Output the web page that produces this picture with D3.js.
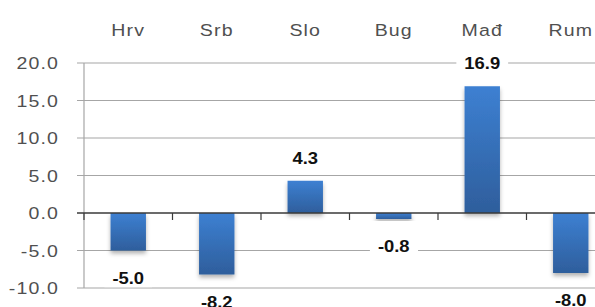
<!DOCTYPE html>
<html lang="en">
  <head>
    <meta charset="UTF-8">
    <script type="text/javascript" src="https://cdn.jsdelivr.net/npm/d3@7"></script>
    <style>
      body { margin: 0; background: #fff; }
      svg { display: block; overflow: hidden; }
    </style>
    <title>Bar chart</title>
  </head>
  <body>
    <script type="text/javascript">
      // Column chart with values above / below each bar

      let categories = ['Hrv', 'Srb', 'Slo', 'Bug', 'Mađ', 'Rum'];
      let values = [-5.0, -8.2, 4.3, -0.8, 16.9, -8.0];
      let yTicks = [-10, -5, 0, 5, 10, 15, 20];

      let w = 595;
      let h = 307;
      let plotLeft = 84;
      let plotRight = 615;   // plot runs past the window edge
      let plotTop = 63;
      let plotBottom = 288;

      let font = "'Liberation Sans', Arial, sans-serif";
      let stretch = 1.15;    // the original text is drawn wide

      let xGroup = d3.scaleBand()
                     .domain(categories)
                     .range([plotLeft, plotRight])
                     .padding(0);

      let xScale = d3.scaleBand()
                     .domain(categories)
                     .range([plotLeft, plotRight])
                     .paddingInner(0.6)
                     .paddingOuter(0.3);

      let yScale = d3.scaleLinear()
                     .domain([-10, 20])
                     .range([plotBottom, plotTop]);

      let svg = d3.select('body')
                  .append('svg')
                  .attr('width', w)
                  .attr('height', h);

      let defs = svg.append('defs');
      let grad = defs.append('linearGradient')
                     .attr('id', 'barGrad')
                     .attr('x1', 0).attr('y1', 0)
                     .attr('x2', 0).attr('y2', 1);
      grad.append('stop').attr('offset', '0%').attr('stop-color', '#3d80d2');
      grad.append('stop').attr('offset', '100%').attr('stop-color', '#2e5e9c');

      let shadow = defs.append('filter')
                       .attr('id', 'shadow')
                       .attr('x', '-30%').attr('y', '-30%')
                       .attr('width', '160%').attr('height', '160%');
      shadow.append('feDropShadow')
            .attr('dx', 0).attr('dy', 3)
            .attr('stdDeviation', 2)
            .attr('flood-color', '#000')
            .attr('flood-opacity', 0.3);

      // Gridlines
      svg.selectAll('line.grid')
         .data(yTicks.filter(d => d !== 0))
         .enter()
         .append('line')
         .attr('class', 'grid')
         .attr('x1', plotLeft - 7)
         .attr('x2', w)
         .attr('y1', d => yScale(d))
         .attr('y2', d => yScale(d))
         .attr('stroke', '#a6a6a6')
         .attr('stroke-width', 1.2);

      // Vertical axis
      svg.append('line')
         .attr('x1', plotLeft).attr('x2', plotLeft)
         .attr('y1', yScale(20)).attr('y2', yScale(-10))
         .attr('stroke', '#a6a6a6')
         .attr('stroke-width', 1.2);

      // Tick labels
      svg.selectAll('text.ytick')
         .data(yTicks)
         .enter()
         .append('text')
         .attr('class', 'ytick')
         .text(d => d.toFixed(1))
         .attr('text-anchor', 'end')
         .attr('transform', d => `translate(59,${yScale(d) + 6}) scale(${stretch},1)`)
         .attr('font-family', font)
         .attr('font-size', 17)
         .attr('letter-spacing', 1)
         .attr('fill', '#505050');

      // Category labels on top
      svg.selectAll('text.cat')
         .data(categories)
         .enter()
         .append('text')
         .attr('class', 'cat')
         .text(d => d)
         .attr('text-anchor', 'middle')
         .attr('transform', d => `translate(${xGroup(d) + xGroup.bandwidth() / 2},36) scale(${stretch},1)`)
         .attr('font-family', font)
         .attr('font-size', 17)
         .attr('letter-spacing', 1)
         .attr('fill', '#505050');

      // Bars
      svg.selectAll('rect.bar')
         .data(values)
         .enter()
         .append('rect')
         .attr('class', 'bar')
         .attr('x', (d, i) => xScale(categories[i]))
         .attr('y', d => yScale(Math.max(d, 0)))
         .attr('width', xScale.bandwidth())
         .attr('height', d => Math.abs(yScale(d) - yScale(0)))
         .attr('fill', 'url(#barGrad)')
         .attr('filter', 'url(#shadow)');

      // Zero line and its ticks
      svg.append('line')
         .attr('x1', plotLeft - 7).attr('x2', w)
         .attr('y1', yScale(0)).attr('y2', yScale(0))
         .attr('stroke', '#3a3a3a')
         .attr('stroke-width', 1.3);

      svg.selectAll('line.xtick')
         .data(categories)
         .enter()
         .append('line')
         .attr('class', 'xtick')
         .attr('x1', d => xGroup(d))
         .attr('x2', d => xGroup(d))
         .attr('y1', yScale(0))
         .attr('y2', yScale(0) + 7)
         .attr('stroke', '#3a3a3a')
         .attr('stroke-width', 1.2);

      // Value labels with white backing
      let labelStretch = 1.15;
      let labels = svg.selectAll('g.vlabel')
                      .data(values)
                      .enter()
                      .append('g')
                      .attr('class', 'vlabel')
                      .attr('transform', (d, i) => {
                        let x = xGroup(categories[i]) + xGroup.bandwidth() / 2;
                        let y = d >= 0 ? yScale(d) - 23 + 6 : yScale(d) + 27 + 6;
                        return `translate(${x},${y}) scale(${labelStretch},1)`;
                      });

      labels.append('rect')
            .attr('fill', '#fff');

      labels.append('text')
            .text(d => d.toFixed(1))
            .attr('text-anchor', 'middle')
            .attr('font-family', font)
            .attr('font-size', 16)
            .attr('font-weight', 'bold')
            .attr('fill', '#111');

      labels.each(function() {
        let g = d3.select(this);
        let b = g.select('text').node().getBBox();
        let pad = 8 / labelStretch;
        g.select('rect')
         .attr('x', b.x - pad)
         .attr('y', b.y)
         .attr('width', b.width + 2 * pad)
         .attr('height', b.height);
      });
    </script>
  </body>
</html>
